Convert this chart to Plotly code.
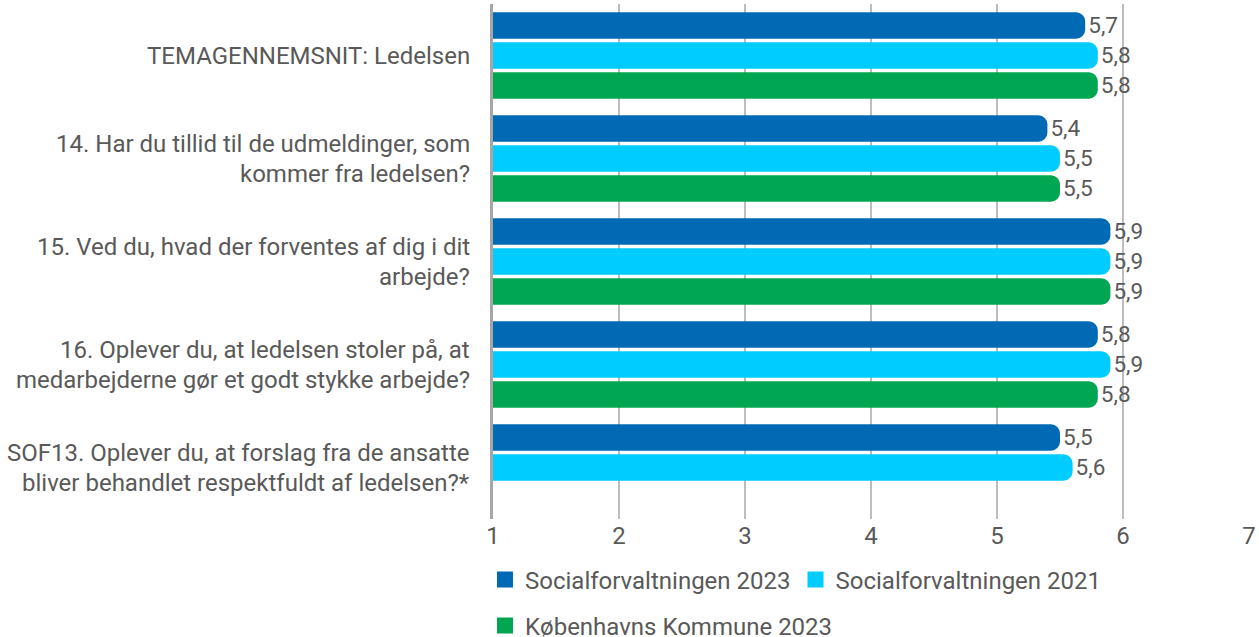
import plotly.graph_objects as go

questions = [
    "TEMAGENNEMSNIT: Ledelsen",
    "14. Har du tillid til de udmeldinger, som<br>kommer fra ledelsen?",
    "15. Ved du, hvad der forventes af dig i dit<br>arbejde?",
    "16. Oplever du, at ledelsen stoler på, at<br>medarbejderne gør et godt stykke arbejde?",
    "SOF13. Oplever du, at forslag fra de ansatte<br>bliver behandlet respektfuldt af ledelsen?*",
]
series_names = ["Socialforvaltningen 2023", "Socialforvaltningen 2021", "Københavns Kommune 2023"]
sof_2023 = [5.7, 5.4, 5.9, 5.8, 5.5]
sof_2021 = [5.8, 5.5, 5.9, 5.9, 5.6]
kk_2023 = [5.8, 5.5, 5.9, 5.8, None]
x_ticks = [1, 2, 3, 4, 5, 6, 7]

colors = ["#006AB4", "#00CCFF", "#00A651"]
GRAY = "#595959"
FONT = "Roboto"
FS = 24

fig = go.Figure()
cats = [f"q{i}" for i in range(len(questions))]

for name, vals, col in zip(series_names, [sof_2023, sof_2021, kk_2023], colors):
    fig.add_trace(
        go.Bar(
            y=cats,
            x=vals,
            orientation="h",
            name=name,
            marker=dict(color=col, cornerradius=9, line_width=0),
            texttemplate="%{x:.1f}",
            textposition="outside",
            textfont=dict(size=FS, color=GRAY, family=FONT),
            showlegend=False,
            hoverinfo="x+name",
        )
    )

# legend entries (bigger squares than the bar defaults)
for i, (name, col) in enumerate(zip(series_names, colors)):
    fig.add_trace(
        go.Scatter(
            x=[None],
            y=[None],
            mode="markers",
            name=name,
            marker=dict(symbol="square", size=16, color=col),
            legend="legend" if i < 2 else "legend2",
        )
    )

# question labels on the left, one annotation per line
for cat, q in zip(cats, questions):
    lines = q.split("<br>")
    n = len(lines)
    for j, line in enumerate(lines):
        fig.add_annotation(
            xref="paper",
            yref="y",
            x=0,
            y=cat,
            xshift=-21,
            yshift=(n - 1) * 15 - j * 30,
            text=line,
            showarrow=False,
            xanchor="right",
            yanchor="middle",
            font=dict(size=FS, color=GRAY, family=FONT),
        )

plot_w = 1259 - 493 - 10
plot_h = 637 - 4 - 118

legend_common = dict(
    orientation="h",
    xanchor="left",
    yanchor="middle",
    x=-8 / plot_w,
    font=dict(size=FS, color=GRAY, family=FONT),
    bgcolor="rgba(0,0,0,0)",
    itemclick=False,
)

fig.update_layout(
    width=1259,
    height=637,
    margin=dict(l=493, r=10, t=4, b=118, autoexpand=False),
    paper_bgcolor="white",
    plot_bgcolor="white",
    barmode="group",
    bargap=0.126,
    bargroupgap=0.123,
    separators=", ",
    font=dict(family=FONT, color=GRAY),
    xaxis=dict(
        range=[1, 7],
        tickvals=x_ticks,
        showgrid=True,
        gridcolor="#BDBDBD",
        gridwidth=1.5,
        zeroline=False,
        tickfont=dict(size=FS, color=GRAY, family=FONT),
        fixedrange=True,
    ),
    yaxis=dict(
        categoryorder="array",
        categoryarray=cats,
        autorange="reversed",
        showticklabels=False,
        showline=True,
        linecolor="#A6A6A6",
        linewidth=3,
        showgrid=False,
        fixedrange=True,
    ),
    legend=dict(legend_common, y=-(580 - 519) / plot_h),
    legend2=dict(legend_common, y=-(626 - 519) / plot_h),
)

fig.write_html(
    "out.html",
    config={"displayModeBar": False},
    post_script="document.body.style.margin='0';",
)
